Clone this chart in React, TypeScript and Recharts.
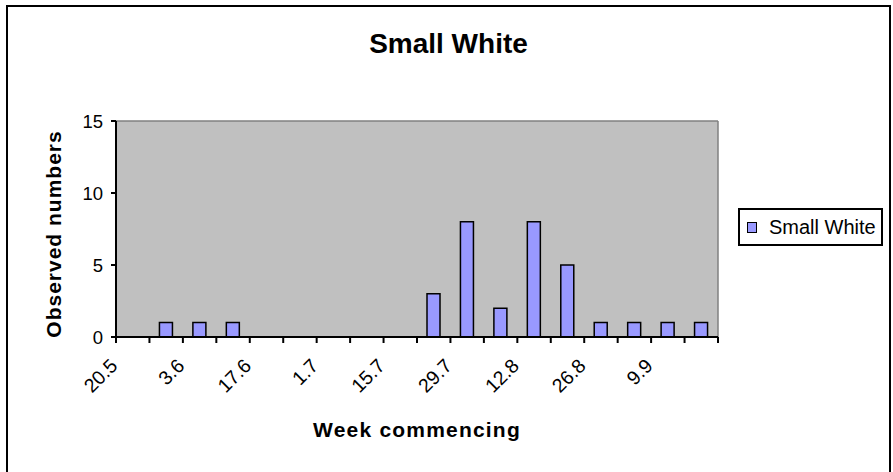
import React from "react"
import { BarChart, Bar, XAxis, YAxis, CartesianGrid, Legend, Label } from "recharts"

// week commencing (day.month), one bar per week
const weeks = ["20.5", "27.5", "3.6", "10.6", "17.6", "24.6", "1.7", "8.7", "15.7", "22.7", "29.7", "5.8", "12.8", "19.8", "26.8", "2.9", "9.9", "16.9"]
const smallWhite = [0, 1, 1, 1, 0, 0, 0, 0, 0, 3, 8, 2, 8, 5, 1, 1, 1, 1]
const yTicks = [0, 5, 10, 15]
const seriesName = "Small White"

const data = weeks.map((week, i) => ({ week, count: smallWhite[i] }))

const FONT = '"Liberation Sans", Arial, sans-serif'

function WeekTick(props: any) {
  const { x, y, payload, index } = props
  const half = payload && payload.offset ? payload.offset : 16.7
  const lx = x - 14
  const ly = y + 30
  return (
    <g>
      <line x1={x - half} x2={x - half} y1={y} y2={y + 6} stroke="#000" strokeWidth={2} />
      {index === weeks.length - 1 && <line x1={x + half} x2={x + half} y1={y} y2={y + 6} stroke="#000" strokeWidth={2} />}
      {index % 2 === 0 && (
        <text x={lx} y={ly} textAnchor="end" fontSize={19.5} fontFamily={FONT} fill="#000" transform={`rotate(-45, ${lx}, ${ly})`}>
          {payload.value}
        </text>
      )}
    </g>
  )
}

function LegendBox(props: any) {
  const item = props.payload && props.payload[0]
  return (
    <div style={{ boxSizing: "border-box", width: 145, height: 38, border: "2px solid #000", background: "#fff", display: "flex", alignItems: "center", fontFamily: FONT, fontSize: 20, color: "#000" }}>
      <span style={{ display: "inline-block", boxSizing: "border-box", width: 10, height: 11, marginLeft: 7, marginRight: 12, background: item ? item.color : "#9999ff", border: "1px solid #000" }} />
      <span>{item ? item.value : seriesName}</span>
    </div>
  )
}

export default function App() {
  return (
    <div style={{ position: "absolute", left: 0, top: 0, width: 893, height: 472, overflow: "hidden", background: "#fff", fontFamily: FONT }}>
      <div style={{ position: "absolute", left: 6, top: 5, width: 885, height: 480, boxSizing: "border-box", border: "2px solid #000" }} />
      <div style={{ position: "absolute", left: 6, top: 30, width: 885, textAlign: "center", fontSize: 28, lineHeight: 1, fontWeight: "bold", color: "#000" }}>
        Small White
      </div>
      <div style={{ position: "absolute", left: 0, top: 0 }}>
        <BarChart width={893} height={472} data={data} margin={{ top: 121, right: 175, left: 0, bottom: 0 }}>
          <CartesianGrid
            fill="#c0c0c0"
            fillOpacity={1}
            stroke="#808080"
            strokeWidth={1.5}
            horizontalCoordinatesGenerator={(p: any) => [p.offset ? p.offset.top : 121]}
            verticalCoordinatesGenerator={(p: any) => [p.offset ? p.offset.left + p.offset.width : 718]}
          />
          <XAxis
            dataKey="week"
            interval={0}
            height={135}
            tickLine={false}
            tickSize={0}
            tickMargin={0}
            axisLine={{ stroke: "#000", strokeWidth: 2 }}
            tick={<WeekTick />}
          >
            <Label
              content={(p: any) => {
                const vb = p.viewBox
                return (
                  <text x={vb.x + vb.width / 2} y={vb.y + 100} textAnchor="middle" fontSize={21} fontWeight="bold" letterSpacing={1.2} fontFamily={FONT} fill="#000">
                    Week commencing
                  </text>
                )
              }}
            />
          </XAxis>
          <YAxis
            domain={[0, 15]}
            ticks={yTicks}
            interval={0}
            width={116}
            axisLine={{ stroke: "#000", strokeWidth: 2 }}
            tickLine={{ stroke: "#000", strokeWidth: 2 }}
            tickSize={5}
            tickMargin={8}
            tick={{ fill: "#000", fontSize: 18.5, fontFamily: FONT }}
          >
            <Label
              content={(p: any) => {
                const vb = p.viewBox
                const cx = 61
                const cy = vb.y + vb.height / 2 + 5
                return (
                  <text x={cx} y={cy} textAnchor="middle" fontSize={21} fontWeight="bold" letterSpacing={1} fontFamily={FONT} fill="#000" transform={`rotate(-90, ${cx}, ${cy})`}>
                    Observed numbers
                  </text>
                )
              }}
            />
          </YAxis>
          <Legend
            layout="horizontal"
            verticalAlign="middle"
            align="center"
            wrapperStyle={{ left: 738, top: 208, width: 145, height: 38 }}
            content={(p: any) => <LegendBox {...p} />}
          />
          <Bar dataKey="count" name={seriesName} fill="#9999ff" stroke="#000" strokeWidth={1.5} barSize={13} isAnimationActive={false} />
        </BarChart>
      </div>
    </div>
  )
}
